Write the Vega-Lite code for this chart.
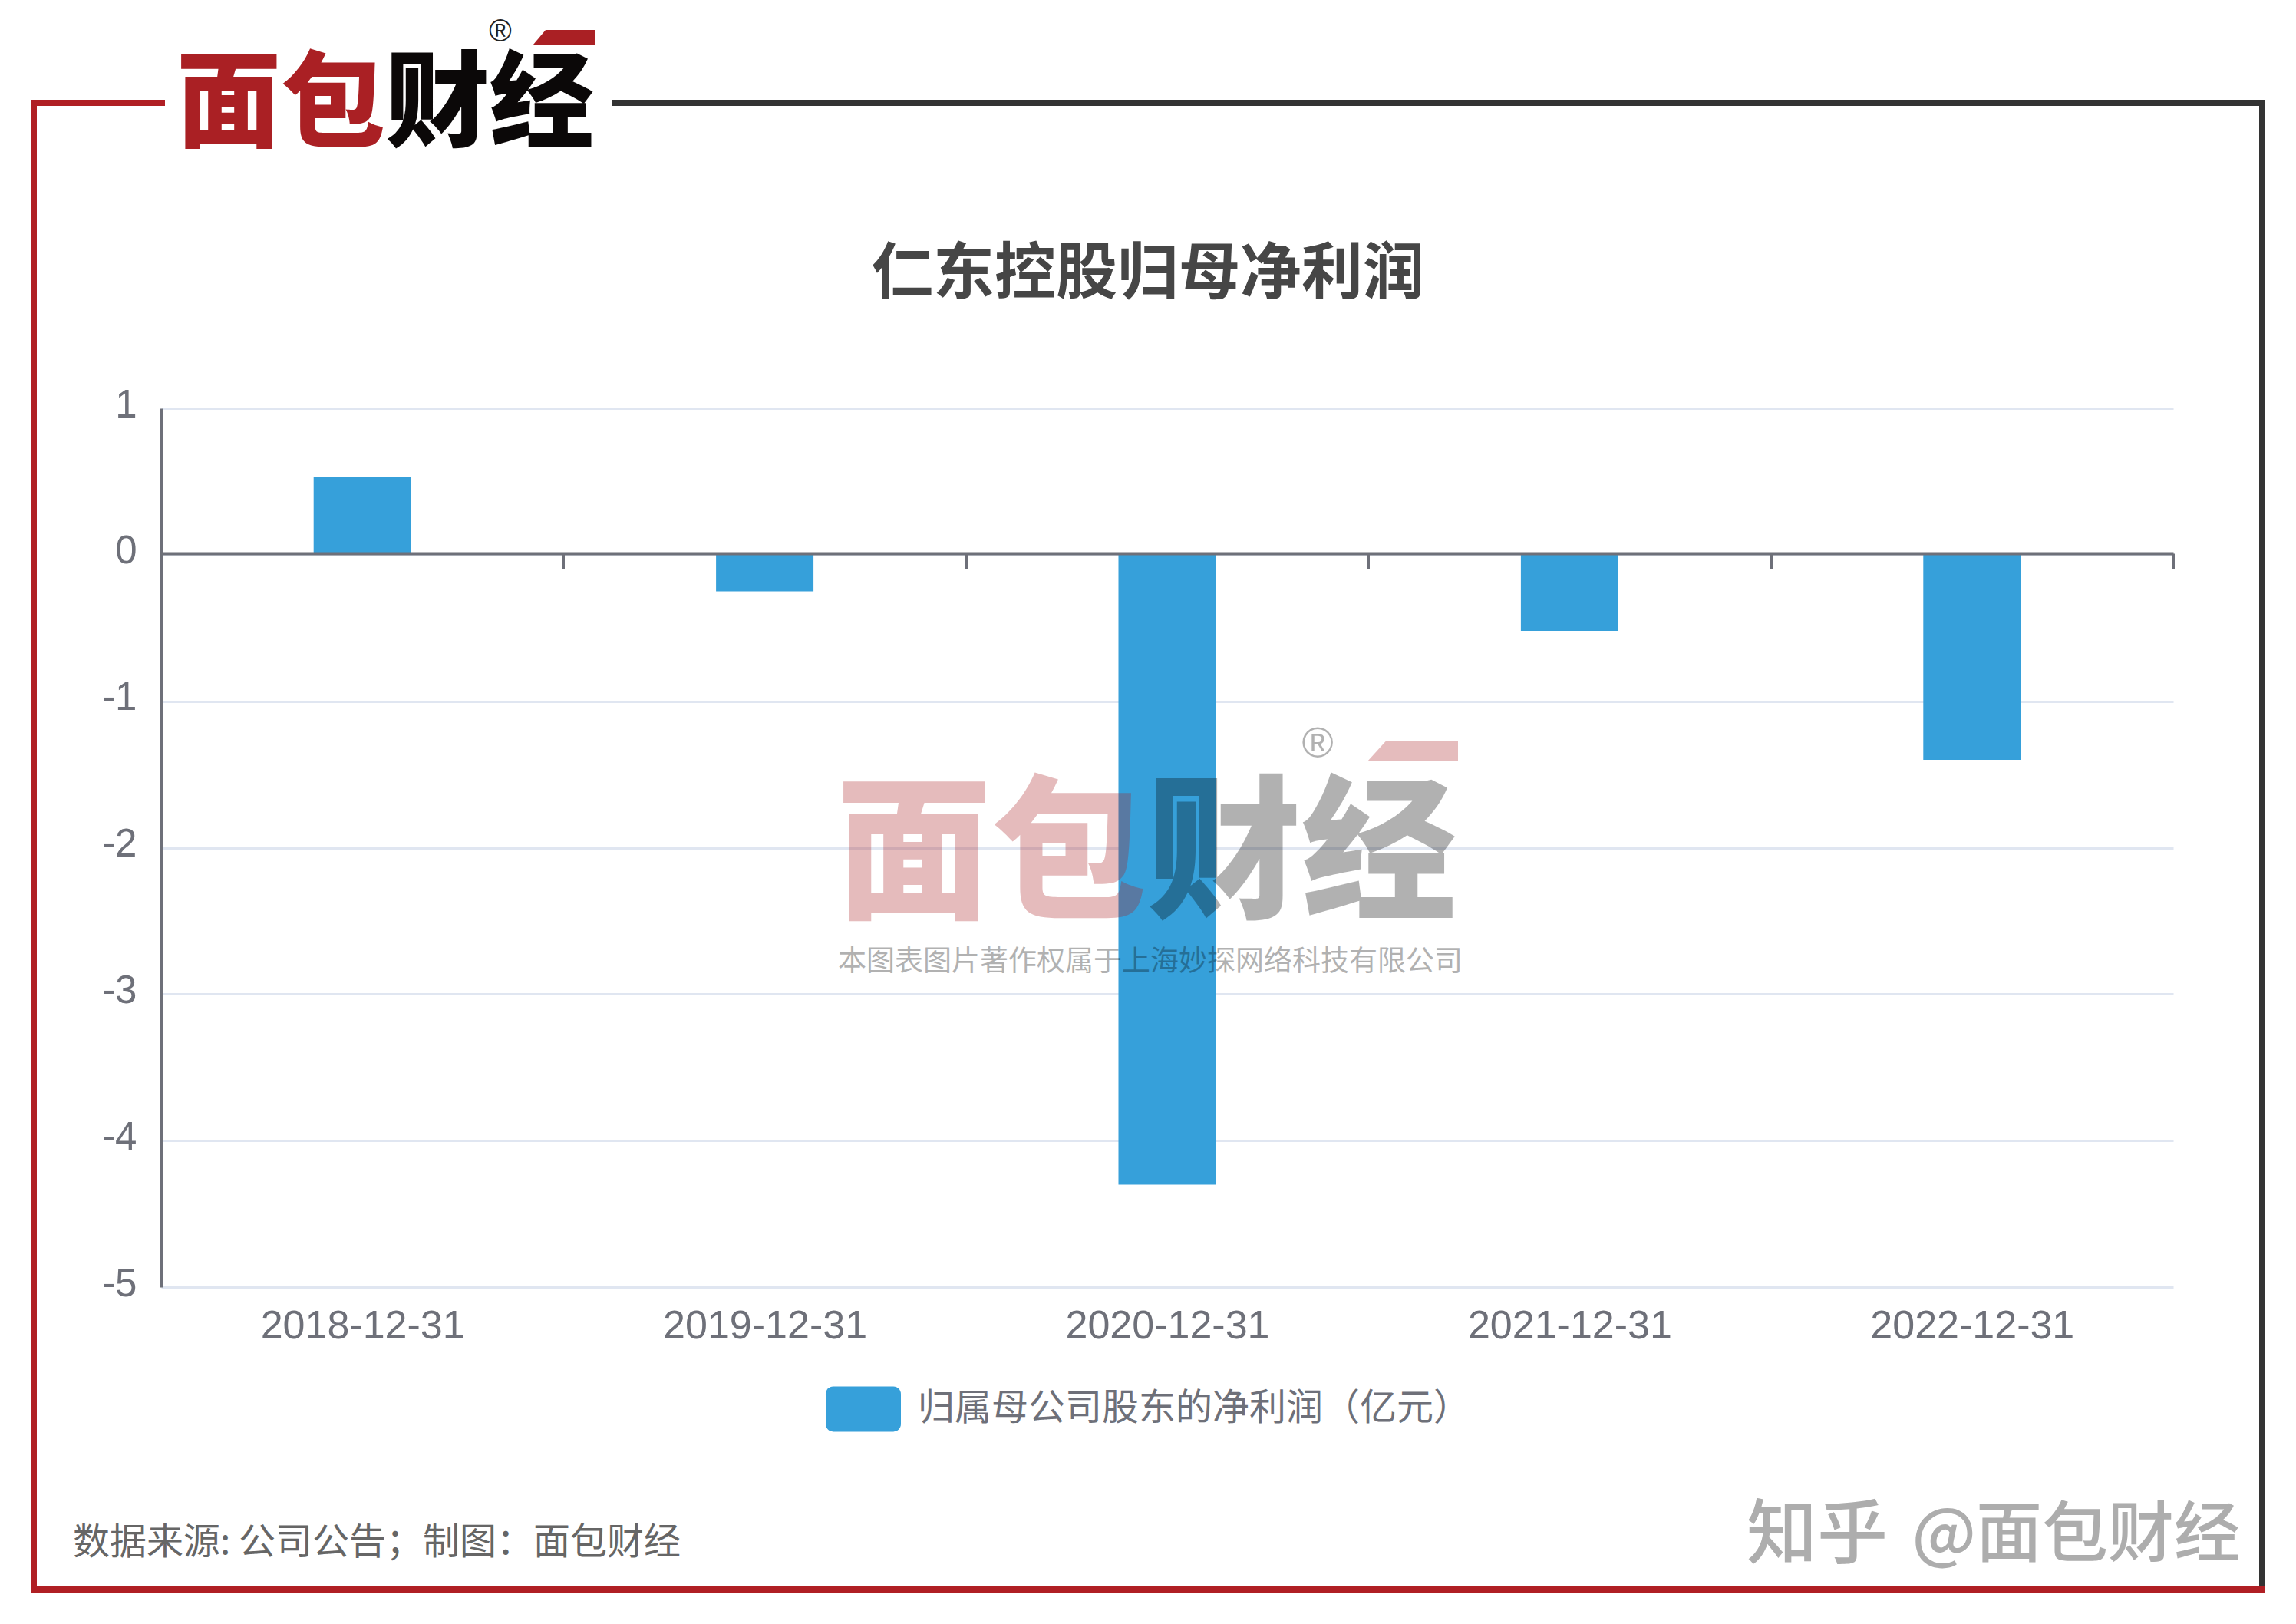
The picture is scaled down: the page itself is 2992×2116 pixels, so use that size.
{
"$schema":"https://vega.github.io/schema/vega-lite/v6.json",
"width":2622,"height":1145,
"autosize":{"type":"none"},
"padding":{"left":210,"top":532,"right":160,"bottom":439},
"background":"#ffffff",
"config":{"view":{"stroke":null},"font":"Noto Sans CJK SC"},
"title":{"text":"仁东控股归母净利润","font":"Noto Sans CJK SC","fontSize":80,"fontWeight":"bold","color":"#464646","anchor":"middle","frame":"group","dx":-25,"offset":-377},
"layer":[
{"data":{"values":[
{"date":"2018-12-31","profit":0.53,"series":"归属母公司股东的净利润（亿元）"},
{"date":"2019-12-31","profit":-0.25,"series":"归属母公司股东的净利润（亿元）"},
{"date":"2020-12-31","profit":-4.3,"series":"归属母公司股东的净利润（亿元）"},
{"date":"2021-12-31","profit":-0.52,"series":"归属母公司股东的净利润（亿元）"},
{"date":"2022-12-31","profit":-1.4,"series":"归属母公司股东的净利润（亿元）"}
]},
"mark":{"type":"bar","size":127},
"encoding":{
"x":{"field":"date","type":"nominal","title":null,"scale":{"paddingInner":0,"paddingOuter":0},
"axis":{"orient":"bottom","offset":-956,"tickBand":"extent","tickSize":20,"tickWidth":3,"tickColor":"#6e7079","domainColor":"#6e7079","domainWidth":4,"labelPadding":961,"labelLimit":1000,"labelAngle":0,"labelFont":"Liberation Sans","labelFontSize":52,"labelColor":"#6e7079","labelBaseline":"top","labelOverlap":false,"labelBound":false,"grid":false,"zindex":1}},
"y":{"field":"profit","type":"quantitative","title":null,"scale":{"domain":[-5,1],"nice":false},
"axis":{"values":[-5,-4,-3,-2,-1,0,1],"labelExpr":"''+datum.value","grid":true,"gridColor":"#E0E6F1","gridWidth":3,"ticks":false,"domain":true,"domainColor":"#6e7079","domainWidth":3,"labelPadding":32,"labelOffset":-4,"labelFont":"Liberation Sans","labelFontSize":51,"labelColor":"#6e7079","zindex":0}},
"color":{"field":"series","type":"nominal","scale":{"range":["#36A0DA"]},
"legend":{"orient":"none","legendX":866,"legendY":1255,"title":null,"symbolType":"M-0.8,-0.6H0.8A0.2,0.2 0 0 1 1,-0.4V0.4A0.2,0.2 0 0 1 0.8,0.6H-0.8A0.2,0.2 0 0 1 -1,0.4V-0.4A0.2,0.2 0 0 1 -0.8,-0.6Z","symbolSize":9604,"symbolStrokeWidth":0,"symbolOpacity":1,"labelFont":"Noto Sans CJK SC","labelFontSize":48,"labelColor":"#6e7079","labelLimit":1200,"labelOffset":22}}
}},
{"data":{"values":[{}]},
"layer":[
{"mark":{"type":"rule","strokeWidth":8,"color":"#B01F24"},"encoding":{"x":{"datum":44,"type":"quantitative","scale":{"domain":[0,2992],"range":[-210,2782],"nice":false,"zero":false},"axis":null},"y":{"datum":130,"type":"quantitative","scale":{"domain":[0,2116],"range":[-532,1584],"nice":false,"zero":false},"axis":null},"y2":{"datum":2074}}},
{"mark":{"type":"rule","strokeWidth":8,"color":"#B01F24"},"encoding":{"x":{"datum":40,"type":"quantitative"},"x2":{"datum":215},"y":{"datum":134,"type":"quantitative"}}},
{"mark":{"type":"rule","strokeWidth":8,"color":"#333333"},"encoding":{"x":{"datum":797,"type":"quantitative"},"x2":{"datum":2952},"y":{"datum":134,"type":"quantitative"}}},
{"mark":{"type":"rule","strokeWidth":8,"color":"#333333"},"encoding":{"x":{"datum":2948,"type":"quantitative"},"y":{"datum":130,"type":"quantitative"},"y2":{"datum":2070}}},
{"mark":{"type":"rule","strokeWidth":8,"color":"#B01F24"},"encoding":{"x":{"datum":40,"type":"quantitative"},"x2":{"datum":2952},"y":{"datum":2071,"type":"quantitative"}}},
{"mark":{"type":"text","text":"面","font":"Noto Sans CJK SC","fontWeight":900,"fontSize":136,"color":"#AA2024","align":"center","baseline":"middle"},"encoding":{"x":{"datum":298,"type":"quantitative"},"y":{"datum":140,"type":"quantitative"}}},
{"mark":{"type":"text","text":"包","font":"Noto Sans CJK SC","fontWeight":900,"fontSize":136,"color":"#AA2024","align":"center","baseline":"middle"},"encoding":{"x":{"datum":434,"type":"quantitative"},"y":{"datum":140,"type":"quantitative"}}},
{"mark":{"type":"text","text":"财","font":"Noto Sans CJK SC","fontWeight":900,"fontSize":136,"color":"#0B0808","align":"center","baseline":"middle"},"encoding":{"x":{"datum":570,"type":"quantitative"},"y":{"datum":140,"type":"quantitative"}}},
{"mark":{"type":"text","text":"经","font":"Noto Sans CJK SC","fontWeight":900,"fontSize":136,"color":"#0B0808","align":"center","baseline":"middle"},"encoding":{"x":{"datum":706,"type":"quantitative"},"y":{"datum":140,"type":"quantitative"}}},
{"mark":{"type":"text","text":"®","font":"Liberation Sans","fontSize":40,"color":"#222222","align":"center","baseline":"middle"},"encoding":{"x":{"datum":652,"type":"quantitative"},"y":{"datum":42,"type":"quantitative"}}},
{"mark":{"type":"point","filled":true,"shape":"M-0.6,-0.24H1V0.24H-1Z","size":6400,"strokeWidth":0,"opacity":1,"color":"#AA2024"},"encoding":{"x":{"datum":735,"type":"quantitative"},"y":{"datum":48.5,"type":"quantitative"}}},
{"mark":{"type":"text","text":"面","font":"Noto Sans CJK SC","fontWeight":900,"fontSize":202,"color":"#AA2024","opacity":0.3,"align":"center","baseline":"middle"},"encoding":{"x":{"datum":1191,"type":"quantitative"},"y":{"datum":1120,"type":"quantitative"}}},
{"mark":{"type":"text","text":"包","font":"Noto Sans CJK SC","fontWeight":900,"fontSize":202,"color":"#AA2024","opacity":0.3,"align":"center","baseline":"middle"},"encoding":{"x":{"datum":1393,"type":"quantitative"},"y":{"datum":1120,"type":"quantitative"}}},
{"mark":{"type":"text","text":"财","font":"Noto Sans CJK SC","fontWeight":900,"fontSize":202,"color":"#000000","opacity":0.3,"align":"center","baseline":"middle"},"encoding":{"x":{"datum":1595,"type":"quantitative"},"y":{"datum":1120,"type":"quantitative"}}},
{"mark":{"type":"text","text":"经","font":"Noto Sans CJK SC","fontWeight":900,"fontSize":202,"color":"#000000","opacity":0.3,"align":"center","baseline":"middle"},"encoding":{"x":{"datum":1797,"type":"quantitative"},"y":{"datum":1120,"type":"quantitative"}}},
{"mark":{"type":"text","text":"®","font":"Liberation Sans","fontSize":56,"color":"#000000","opacity":0.3,"align":"center","baseline":"middle"},"encoding":{"x":{"datum":1717,"type":"quantitative"},"y":{"datum":970,"type":"quantitative"}}},
{"mark":{"type":"point","filled":true,"shape":"M-0.6,-0.22H1V0.22H-1Z","size":13924,"strokeWidth":0,"opacity":0.3,"color":"#AA2024"},"encoding":{"x":{"datum":1841,"type":"quantitative"},"y":{"datum":979,"type":"quantitative"}}},
{"mark":{"type":"text","text":"本图表图片著作权属于上海妙探网络科技有限公司","font":"Noto Sans CJK SC","fontSize":37,"color":"#000000","opacity":0.3,"align":"left","baseline":"middle"},"encoding":{"x":{"datum":1092,"type":"quantitative"},"y":{"datum":1254,"type":"quantitative"}}},
{"mark":{"type":"text","text":"数据来源: 公司公告；制图：面包财经","font":"Noto Sans CJK SC","fontSize":48,"color":"#666666","align":"left","baseline":"middle"},"encoding":{"x":{"datum":95,"type":"quantitative"},"y":{"datum":2011,"type":"quantitative"}}},
{"mark":{"type":"text","text":"知乎","font":"Noto Sans CJK SC","fontWeight":500,"fontSize":92,"color":"#ADADAD","align":"left","baseline":"middle"},"encoding":{"x":{"datum":2276,"type":"quantitative"},"y":{"datum":2002,"type":"quantitative"}}},
{"mark":{"type":"text","text":"@面包财经","font":"Noto Sans CJK SC","fontWeight":500,"fontSize":86,"color":"#ADADAD","align":"right","baseline":"middle"},"encoding":{"x":{"datum":2919,"type":"quantitative"},"y":{"datum":2002,"type":"quantitative"}}}
]}
],
"resolve":{"scale":{"x":"independent","y":"independent"}}
}
